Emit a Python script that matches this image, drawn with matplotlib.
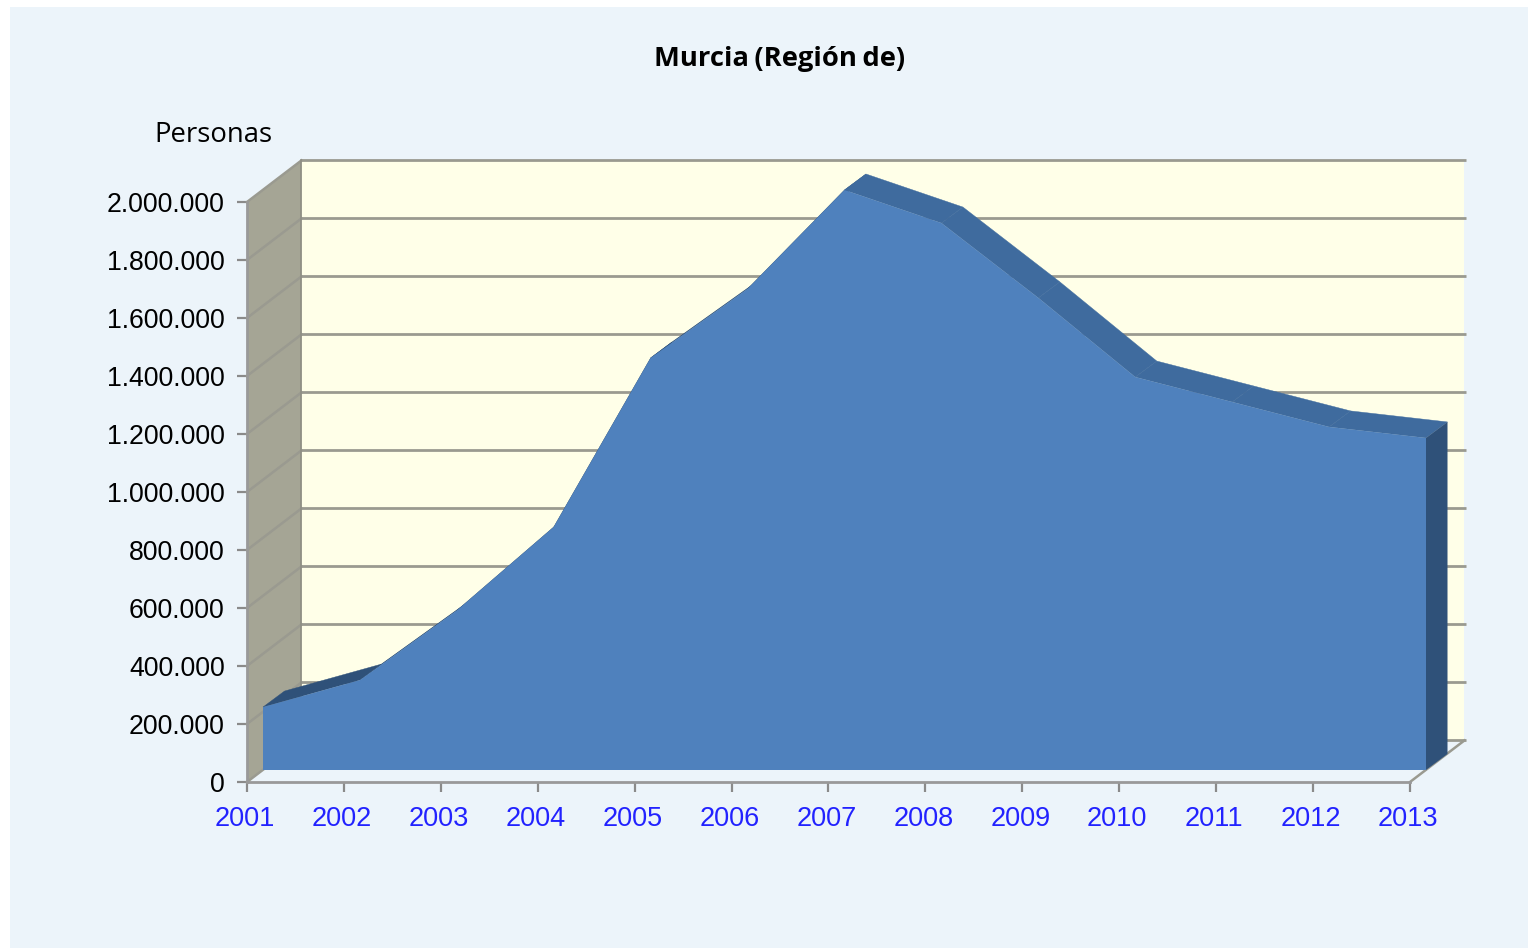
import matplotlib
matplotlib.use("Agg")
import matplotlib.pyplot as plt
from matplotlib.patches import Rectangle
from matplotlib.transforms import Affine2D
from matplotlib.ticker import FuncFormatter

years = [2001, 2002, 2003, 2004, 2005, 2006, 2007, 2008, 2009, 2010, 2011, 2012, 2013]
personas = [217000, 310000, 550000, 838000, 1421000, 1659000, 2000000,
            1886000, 1628000, 1355000, 1269000, 1183000, 1145000]
y_ticks = [0, 200000, 400000, 600000, 800000, 1000000, 1200000, 1400000, 1600000, 1800000, 2000000]

W, H = 1528, 950
PANEL = "#ECF4FA"
WALL = "#FFFFE8"
SIDE = "#A5A595"
GRID = "#9A9A90"
FRONT = "#4F81BD"
TOP = "#3F6B9E"
DARK = "#2F5179"

fig = plt.figure(figsize=(W / 100, H / 100), dpi=100, facecolor="white")
fig.patches.append(Rectangle((10 / W, 1 - 948 / H), 1518 / W, 941 / H, transform=fig.transFigure,
                             facecolor=PANEL, edgecolor="none", zorder=-1))

# front plane of the chart box, depth is done with pixel offsets
ax = fig.add_axes([247 / W, 1 - 782 / H, (1410 - 247) / W, (782 - 202) / H])
ax.patch.set_visible(False)
ax.set_xlim(years[0], years[-1])
ax.set_ylim(0, y_ticks[-1])


def shifted(dx, dy):
    return ax.transData + Affine2D().translate(dx, dy)


back = shifted(54.5, 41.6)
series_front = shifted(16, 12)
series_back = shifted(37.5, 28)
x0, x1 = years[0], years[-1]
y0, y1 = y_ticks[0], y_ticks[-1]


def to_px(x, y, tr):
    return tr.transform((x, y))


def pixel_poly(points, **kw):
    # points are (x, y, transform) in chart values
    xy = [to_px(*p) for p in points]
    ax.fill([p[0] for p in xy], [p[1] for p in xy], transform=Affine2D(), clip_on=False, **kw)


def pixel_line(points, **kw):
    xy = [to_px(*p) for p in points]
    ax.plot([p[0] for p in xy], [p[1] for p in xy], transform=Affine2D(), clip_on=False, **kw)


# walls and floor
ax.fill([x0, x1, x1, x0], [y0, y0, y1, y1], transform=back, color=WALL, lw=0, clip_on=False, zorder=1)
pixel_poly([(x0, y0, ax.transData), (x0, y0, back), (x0, y1, back), (x0, y1, ax.transData)],
           facecolor=SIDE, edgecolor="none", zorder=1)
for v in y_ticks:
    ax.plot([x0, x1 + 0.02], [v, v], transform=back, color=GRID, lw=2.0, clip_on=False, zorder=2,
            solid_capstyle="butt")
    pixel_line([(x0, v, ax.transData), (x0, v, back)], color=GRID, lw=1.8, zorder=2)
pixel_line([(x1, y0, ax.transData), (x1, y0, back)], color=GRID, lw=1.8, zorder=2)
pixel_line([(x0, y0, back), (x0, y1, back)], color="#8E8E84", lw=1.2, zorder=2)

# top ribbon of the area, dark where it faces down
for i in range(len(years) - 1):
    a, b = years[i], years[i + 1]
    va, vb = personas[i], personas[i + 1]
    pixel_poly([(a, va, series_front), (b, vb, series_front), (b, vb, series_back), (a, va, series_back)],
               facecolor=DARK if vb > va else TOP, edgecolor=DARK if vb > va else TOP, lw=0.3, zorder=3)

# right end of the area
pixel_poly([(x1, 0, series_front), (x1, 0, series_back), (x1, personas[-1], series_back),
            (x1, personas[-1], series_front)], facecolor=DARK, edgecolor="none", zorder=3)

# front face
ax.fill(years + [x1, x0], personas + [0, 0], transform=series_front, color=FRONT, lw=0,
        clip_on=False, zorder=4)

for s in ("top", "right"):
    ax.spines[s].set_visible(False)
for s in ("left", "bottom"):
    ax.spines[s].set_color("#999999")
    ax.spines[s].set_linewidth(2)
    ax.spines[s].set_zorder(5)

ax.set_xticks(years)
ax.set_yticks(y_ticks)
ax.yaxis.set_major_formatter(FuncFormatter(lambda v, _: f"{int(v):,}".replace(",", ".")))
ax.tick_params(axis="x", length=7, width=1.6, color="#8A8A8A", pad=10.5, labelsize=19.5, labelcolor="#2222FF")
ax.tick_params(axis="y", length=7, width=1.6, color="#8A8A8A", pad=9, labelsize=19.2, labelcolor="black")
for lab in ax.get_xticklabels() + ax.get_yticklabels():
    lab.set_family("Liberation Sans")
for lab in ax.get_xticklabels():
    lab.set_transform(lab.get_transform() + Affine2D().translate(-2, 0))

fig.text(780 / W, 1 - 59 / H, "Murcia\u2009(Región\u2009de)", family="Open Sans", weight="bold", fontsize=19.7,
         ha="center", va="center", color="black")
fig.text(154 / W, 1 - 135 / H, "Personas", family="Open Sans", fontsize=19.8, ha="left", va="center",
         color="black")

fig.savefig("out.png", dpi=100)
